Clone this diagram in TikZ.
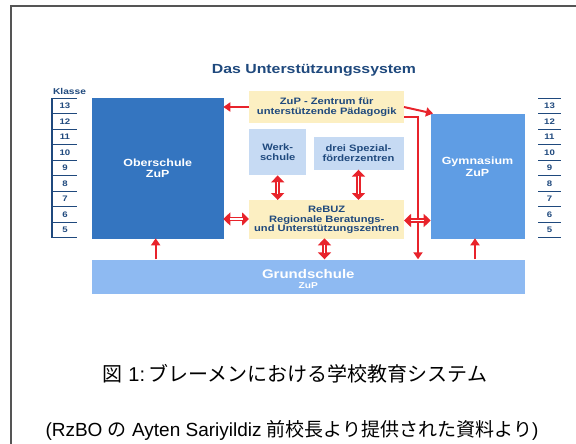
\documentclass[tikz,border=0pt]{standalone}
\usepackage{fontspec}
\setmainfont{Liberation Sans}
\newfontfamily\dfont[FakeStretch=1.2]{Liberation Sans}
\newfontfamily\cjk{Noto Sans CJK JP}
\usetikzlibrary{arrows.meta}
\definecolor{oberblue}{HTML}{3475C0}
\definecolor{gymblue}{HTML}{5F9DE4}
\definecolor{grundblue}{HTML}{8EBAF2}
\definecolor{paleyellow}{HTML}{FCEFC2}
\definecolor{paleblue}{HTML}{C6DAF3}
\definecolor{darkblue}{HTML}{1F497D}
\definecolor{arrowred}{HTML}{E8232B}
\definecolor{framegray}{HTML}{555555}
\tikzset{
  box/.style={draw=none, anchor=north west, inner sep=0pt, align=center},
  boxtext/.style={font=\dfont\bfseries\fontsize{9.3}{9.9}\selectfont, text=darkblue, align=center},
  bigtext/.style={font=\dfont\bfseries\fontsize{10.4}{11.5}\selectfont, text=white, align=center},
  sarrow/.style={draw=arrowred, line width=2pt, -{Triangle[length=7pt,width=9pt]}},
  darrow/.style={draw=arrowred, line width=4.6pt,
     {Triangle[length=7pt,width=13pt]}-{Triangle[length=7pt,width=13pt]}},
  dinner/.style={draw=white, line width=1.4pt, shorten <=6.5pt, shorten >=6.5pt},
  scale line/.style={draw=darkblue, line width=1.4pt},
  numtext/.style={font=\dfont\bfseries\fontsize{8}{9}\selectfont, text=darkblue, inner sep=0pt},
}
\begin{document}
\begin{tikzpicture}[x=1pt,y=-1pt]
\useasboundingbox (0,0) rectangle (576,444);
% frame (top and left only)
\draw[framegray, line width=1.5pt] (11,444) -- (11,6) -- (576,6);

% title
\node[anchor=base, font=\dfont\bfseries\fontsize{13.2}{15}\selectfont, text=darkblue] (title) at (314,74) {Das Unterstützungssystem};

% boxes
\node[box, fill=oberblue, minimum width=131.6pt, minimum height=140.6pt] (ober) at (91.7,97.7) {};
\node[bigtext] (obertext) at (ober.center) {Oberschule\\ZuP};

\node[box, fill=paleyellow, minimum width=155pt, minimum height=31.7pt] (zup) at (249,91) {};
\node[boxtext] (zuptext) at (zup.center) {ZuP - Zentrum für\\unterstützende Pädagogik};

\node[box, fill=paleblue, minimum width=57pt, minimum height=46pt] (werk) at (249,129) {};
\node[boxtext, font=\dfont\bfseries\fontsize{9.3}{10.6}\selectfont] (werktext) at (werk.center) {Werk-\\schule};

\node[box, fill=paleblue, minimum width=90pt, minimum height=32.6pt] (spez) at (313.3,136.7) {};
\node[boxtext] (speztext) at (spez.center) {drei Spezial-\\förderzentren};

\node[box, fill=paleyellow, minimum width=155pt, minimum height=38.3pt] (rebuz) at (249,200) {};
\node[boxtext] (rebuztext) at ([yshift=-0.5pt]rebuz.center) {ReBUZ\\Regionale Beratungs-\\und Unterstützungszentren};

\node[box, fill=gymblue, minimum width=93.6pt, minimum height=125pt] (gym) at (430.7,113.3) {};
\node[bigtext] (gymtext) at (477.5,167) {Gymnasium\\ZuP};

\node[box, fill=grundblue, minimum width=433.3pt, minimum height=34.7pt] (grund) at (91.7,259.3) {};
\node[anchor=base, font=\dfont\bfseries\fontsize{12.5}{14}\selectfont, text=white] (grundtext) at (308.3,278) {Grundschule};
\node[anchor=base, font=\dfont\bfseries\fontsize{8.5}{10}\selectfont, text=white] (grundzup) at (308.3,288.5) {ZuP};

% class scales
\node[anchor=base, font=\dfont\bfseries\fontsize{8.5}{10}\selectfont, text=darkblue] (klasse) at (69.5,94.5) {Klasse};
\draw[scale line] (52,98.3) -- (52,237.7);
\foreach \i in {0,...,9} {
  \draw[scale line] (51.3,98.3+15.49*\i) -- (77,98.3+15.49*\i);
  \draw[scale line] (538.3,98.3+15.49*\i) -- (560.7,98.3+15.49*\i);
}
\foreach \n [count=\k from 0] in {13,12,11,10,9,8,7,6,5} {
  \node[numtext] (l\n) at (65,106.05+15.49*\k) {\n};
  \node[numtext] (r\n) at (549.5,106.05+15.49*\k) {\n};
}

% helper coordinates
\coordinate (zl) at (249,107);
\coordinate (ol) at (223.3,107);
\coordinate (zr) at (404,107);
\coordinate (gc) at (433,113.5);
\coordinate (zr2) at (404,117.3);
\coordinate (bend) at (418,117.3);
\coordinate (gd) at (418,259.3);
\coordinate (g1) at (155.7,259.3);
\coordinate (o1) at (155.7,238.3);
\coordinate (g2) at (475,259.3);
\coordinate (y2) at (475,238.3);
\coordinate (rb) at (324.5,238.3);
\coordinate (gb) at (324.5,259.3);
\coordinate (ws) at (werk.south);
\coordinate (wr) at (werk.south |- rebuz.north);
\coordinate (ss) at (spez.south);
\coordinate (sr) at (spez.south |- rebuz.north);
\coordinate (oe) at (223.3,219);
\coordinate (rw) at (249,219);
\coordinate (re) at (404,220.5);
\coordinate (gw) at (430.7,220.5);

% single arrows
\draw[sarrow] (zl) -- (ol);
\draw[sarrow] (zr) -- (gc);
\draw[sarrow] (zr2) -- (bend) -- (gd);
\draw[sarrow] (g1) -- (o1);
\draw[sarrow] (g2) -- (y2);

% double arrows (red shaft with white core)
\foreach \a/\b in {ws/wr, ss/sr, oe/rw, re/gw, rb/gb} {
  \draw[darrow] (\a) -- (\b);
  \draw[dinner] (\a) -- (\b);
}

% caption
\node[anchor=base, font=\fontsize{20}{23}\selectfont] (cap1) at (295,381) {{\cjk 図} 1:\,{\cjk ブレーメンにおける学校教育システム}};
\node[anchor=base, font=\fontsize{19}{21}\selectfont] (cap2) at (292,436.5) {(RzBO {\cjk の} Ayten Sariyildiz {\cjk 前校長より提供された資料より})};
\end{tikzpicture}
\end{document}
